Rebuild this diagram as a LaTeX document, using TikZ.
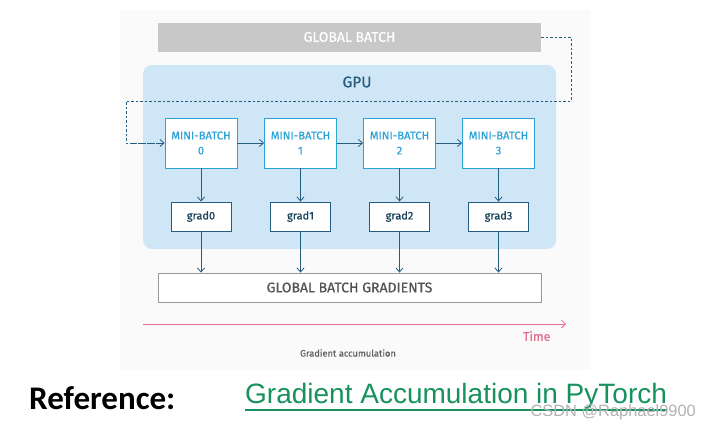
\documentclass[tikz,border=0pt]{standalone}
\usepackage{fontspec}
\setmainfont{Fira Sans}
\newfontfamily\medf{Fira Sans}[FakeBold=0.6]
\newfontfamily\arialf{Liberation Sans}
\newfontfamily\calf{Carlito}
\usetikzlibrary{arrows.meta}
\definecolor{gpublue}{HTML}{CFE6F6}
\definecolor{mbline}{HTML}{2BA3D6}
\definecolor{darkb}{HTML}{245D80}
\definecolor{gbgray}{HTML}{C8C8C8}
\definecolor{timepink}{HTML}{E46F8E}
\definecolor{linkgreen}{HTML}{17925E}
\begin{document}
\begin{tikzpicture}[x=1pt,y=-1pt,
  mbox/.style={draw=mbline,line width=0.9pt,fill=white,minimum width=72pt,minimum height=50pt,inner sep=0pt,align=center,text=mbline,font=\medf\fontsize{11.2}{15}\selectfont},
  gbox/.style={draw=darkb,line width=0.9pt,fill=white,minimum width=60pt,minimum height=29pt,inner sep=0pt,text=darkb!70!black,font=\medf\fontsize{11}{12}\selectfont},
  arr/.style={draw=darkb,line width=0.8pt,-{Straight Barb[length=4pt,width=7pt]}},
  darr/.style={draw=darkb,line width=0.8pt,dash pattern=on 2.5pt off 2pt}
]
\useasboundingbox (0,0) rectangle (710,429);
\fill[gray!4] (120,10) rectangle (590,370);
% global batch
\node[fill=gbgray,minimum width=383pt,minimum height=29pt,inner sep=0pt,text=white,font=\medf\fontsize{14}{16}\selectfont] (gb) at (349.5,37) {GLOBAL BATCH};
% gpu
\node[fill=gpublue,rounded corners=9pt,minimum width=413pt,minimum height=184pt,inner sep=0pt] (gpu) at (349.5,157) {};
\node[text=darkb,font=\medf\fontsize{15.5}{17}\selectfont] (gpulabel) at (357,82) {GPU};
% mini batches
\foreach \i/\x in {0/201,1/300.5,2/399.5,3/498.5}{
  \node[mbox] (mb\i) at (\x,143) {MINI-BATCH\\\i};
  \node[gbox] (g\i) at (\x,216.5) {grad\i};
}
% global batch gradients
\node[draw=gray!80,line width=0.9pt,fill=white,minimum width=383pt,minimum height=29pt,inner sep=0pt,text=gray!65!black,font=\medf\fontsize{14}{16}\selectfont] (gbg) at (349.5,287.5) {GLOBAL BATCH GRADIENTS};
% arrows
\draw[arr] (mb0) -- (mb1);
\draw[arr] (mb1) -- (mb2);
\draw[arr] (mb2) -- (mb3);
\foreach \i in {0,1,2,3}{
  \draw[arr] (mb\i) -- (g\i);
  \draw[arr] (g\i) -- (g\i |- gbg.north);
}
\draw[darr] (gb.east) -| (571,101) -| (126,143) -- (mb0.west);
\draw[arr,dash pattern=on 2.5pt off 2pt] (133,143) -- (mb0.west);
% time
\coordinate (t0) at (143,324);
\coordinate (t1) at (566,324);
\draw[timepink,line width=0.8pt,-{Straight Barb[length=4pt,width=8pt]}] (t0) -- (t1);
\node[text=timepink,anchor=east,font=\medf\fontsize{12.5}{14}\selectfont] (time) at (554,336) {Time};
\node[text=gray!75!black,font=\medf\fontsize{9.3}{10}\selectfont] (cap) at (348,353) {Gradient accumulation};
% reference line
\node[anchor=west,inner sep=0pt,font=\calf\bfseries\fontsize{33}{35}\selectfont] (ref) at (29,398) {Reference:};
\node[anchor=west,inner sep=0pt,text=linkgreen,font=\arialf\fontsize{28}{30}\selectfont] (link) at (245,396) {Gradient Accumulation in PyTorch};
\draw[linkgreen,line width=1.6pt] (link.south west) ++(0,1) -- ([yshift=-1pt]link.south east);
\node[anchor=east,inner sep=0pt,text=gray!60,font=\arialf\fontsize{16.4}{17}\selectfont] (wm) at (696,412) {CSDN @Raphael9900};
\end{tikzpicture}
\end{document}
